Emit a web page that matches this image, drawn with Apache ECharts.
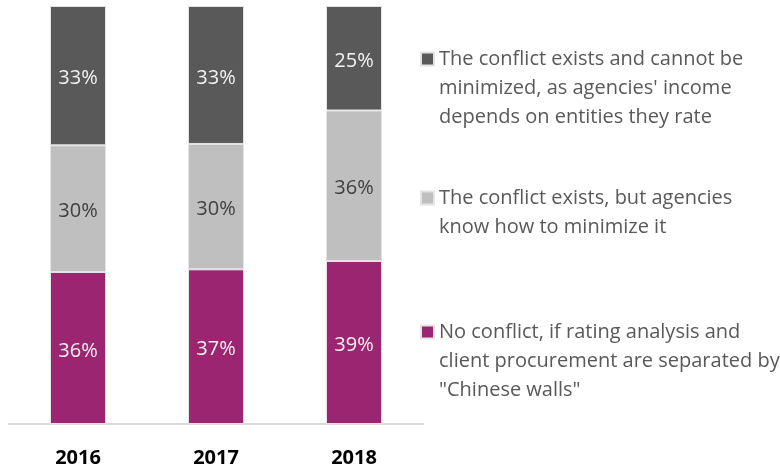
<!DOCTYPE html>
<html>
<head>
<meta charset="utf-8">
<script src="https://cdn.jsdelivr.net/npm/echarts@6/dist/echarts.min.js"></script>
<style>
  html, body { margin: 0; padding: 0; background: #ffffff; }
  #chart { width: 780px; height: 473px; }
</style>
</head>
<body>
<div id="chart"></div>
<script>
// Survey years
const years = ['2016', '2017', '2018'];

// Answer shares, % of respondents
const noConflict = [36, 37, 39];
const canMinimize = [30, 30, 36];
const cannotMinimize = [33, 33, 25];

// Answer wording shown in the legend
const nameCannot = 'The conflict exists and cannot be\nminimized, as agencies\' income\ndepends on entities they rate';
const nameMinimize = 'The conflict exists, but agencies\nknow how to minimize it';
const nameNoConflict = 'No conflict, if rating analysis and\nclient procurement are separated by\n"Chinese walls"';

// Each year's column is shown as a full 100% stack
const totals = years.map((_, i) => noConflict[i] + canMinimize[i] + cannotMinimize[i]);
const share = arr => arr.map((v, i) => ({ value: v / totals[i] * 100, raw: v }));

const FONT = '"Open Sans", "Noto Sans", sans-serif';
const LINE_H = 29;

function makeSeries(name, values, color, labelColor) {
  return {
    name: name,
    type: 'bar',
    stack: 'total',
    barWidth: 56,
    data: share(values),
    itemStyle: { color: color, borderColor: '#e4e4e4', borderWidth: 1 },
    label: {
      show: true,
      position: 'inside',
      offset: [0, 3],
      color: labelColor,
      fontFamily: FONT,
      fontSize: 20,
      formatter: p => p.data.raw + '%'
    },
    emphasis: { disabled: true }
  };
}

// One legend block per answer; the marker sits beside the first text line,
// so empty lines are put above the text to keep the block centred on it.
function makeLegend(name, firstLineY) {
  const lines = name.split('\n').length;
  const blank = lines - 1;
  return {
    data: [name],
    left: 420,
    top: firstLineY - (blank + 0.5) * LINE_H,
    padding: 0,
    orient: 'vertical',
    itemWidth: 13,
    itemHeight: 13,
    icon: 'rect',
    selectedMode: false,
    formatter: n => '\n'.repeat(blank) + n,
    textStyle: {
      fontFamily: FONT,
      fontSize: 20,
      color: '#595959',
      lineHeight: LINE_H
    }
  };
}

const chart = echarts.init(document.getElementById('chart'));
chart.setOption({
  animation: false,
  grid: { left: 9, right: 357, top: 6, bottom: 49 },
  xAxis: {
    type: 'category',
    data: years,
    axisLine: { lineStyle: { color: '#d9d9d9', width: 2 } },
    axisTick: { show: false },
    axisLabel: {
      color: '#000000',
      fontWeight: 'bold',
      fontFamily: FONT,
      fontSize: 20,
      margin: 24
    }
  },
  yAxis: {
    type: 'value',
    min: 0,
    max: 100,
    show: false,
    splitLine: { show: false }
  },
  legend: [
    makeLegend(nameCannot, 59),
    makeLegend(nameMinimize, 198),
    makeLegend(nameNoConflict, 332)
  ],
  series: [
    makeSeries(nameNoConflict, noConflict, '#9b2570', '#f2f2f2'),
    makeSeries(nameMinimize, canMinimize, '#bfbfbf', '#404040'),
    makeSeries(nameCannot, cannotMinimize, '#595959', '#f2f2f2')
  ]
});
</script>
</body>
</html>
